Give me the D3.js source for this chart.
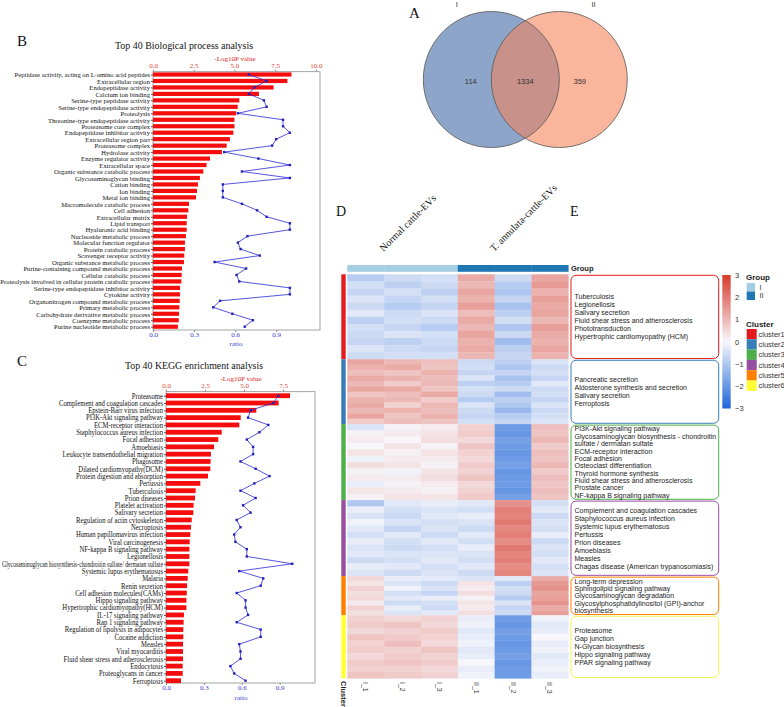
<!DOCTYPE html>
<html>
<head>
<meta charset="utf-8">
<script src="https://cdn.jsdelivr.net/npm/d3@7/dist/d3.min.js"></script>
<style>
  body { margin: 0; background: #fff; }
  svg { display: block; }
</style>
</head>
<body>
<div id="fig"></div>
<script>
// ---- panel B : GO terms ----
const bpTerms = [
  "Peptidase activity, acting on L-amino acid peptides", "Extracellular region", "Endopeptidase activity",
  "Calcium ion binding", "Serine-type peptidase activity", "Serine-type endopeptidase activity", "Proteolysis",
  "Threonine-type endopeptidase activity", "Proteasome core complex", "Endopeptidase inhibitor activity",
  "Extracellular region part", "Proteasome complex", "Hydrolase activity", "Enzyme regulator activity",
  "Extracellular space", "Organic substance catabolic process", "Glycosaminoglycan binding", "Cation binding",
  "Ion binding", "Metal ion binding", "Macromolecule catabolic process", "Cell adhesion", "Extracellular matrix",
  "Lipid transport", "Hyaluronic acid binding", "Nucleoside metabolic process", "Molecular function regulator",
  "Protein catabolic process", "Scavenger receptor activity", "Organic substance metabolic process",
  "Purine-containing compound metabolic process", "Cellular catabolic process",
  "Proteolysis involved in cellular protein catabolic process", "Serine-type endopeptidase inhibitor activity",
  "Cytokine activity", "Organonitrogen compound metabolic process", "Primary metabolic process",
  "Carbohydrate derivative metabolic process", "Coenzyme metabolic process", "Purine nucleotide metabolic process"
];
const bpLogP = [8.5, 8.25, 7.4, 6.5, 5.3, 5.2, 5.1, 5.0, 5.0, 4.93, 4.72, 4.52, 4.23, 3.5, 3.29, 3.09, 2.88, 2.76,
  2.7, 2.64, 2.21, 2.17, 2.09, 2.07, 2.07, 2.02, 1.96, 1.96, 1.92, 1.9, 1.78, 1.76, 1.74, 1.66, 1.66, 1.64, 1.62,
  1.6, 1.58, 1.53];
const bpRatio = [0.70, 0.83, 0.74, 0.70, 0.81, 0.83, 0.62, 0.95, 0.95, 1.0, 0.90, 0.87, 0.52, 0.77, 1.0, 0.65, 1.0,
  0.51, 0.51, 0.51, 0.65, 0.76, 0.83, 1.0, 1.0, 0.69, 0.62, 0.64, 0.78, 0.45, 0.68, 0.61, 0.63, 1.0, 1.0, 0.49,
  0.44, 0.58, 0.73, 0.67];

// ---- panel C : KEGG pathways ----
const keggTerms = [
  "Proteasome", "Complement and coagulation cascades", "Epstein-Barr virus infection", "PI3K-Akt signaling pathway",
  "ECM-receptor interaction", "Staphylococcus aureus infection", "Focal adhesion", "Amoebiasis",
  "Leukocyte transendothelial migration", "Phagosome", "Dilated cardiomyopathy(DCM)", "Protein digestion and absorption",
  "Pertussis", "Tuberculosis", "Prion diseases", "Platelet activation", "Salivary secretion",
  "Regulation of actin cytoskeleton", "Necroptosis", "Human papillomavirus infection", "Viral carcinogenesis",
  "NF-kappa B signaling pathway", "Legionellosis",
  "Glycosaminoglycan biosynthesis-chondroitin sulfate/ dermatan sulfate", "Systemic lupus erythematosus", "Malaria",
  "Renin secretion", "Cell adhesion molecules(CAMs)", "Hippo signaling pathway", "Hypertrophic cardiomyopathy(HCM)",
  "IL-17 signaling pathway", "Rap 1 signaling pathway", "Regulation of lipolysis in adipocytes", "Cocaine addiction",
  "Measles", "Viral myocarditis", "Fluid shear stress and atherosclerosis", "Endocytosis", "Proteoglycans in cancer",
  "Ferroptosis"
];
const keggLogP = [7.95, 7.22, 5.79, 4.79, 4.7, 3.57, 3.35, 3.08, 2.88, 2.86, 2.84, 2.69, 2.2, 1.9, 1.86, 1.77, 1.75,
  1.65, 1.6, 1.56, 1.52, 1.5, 1.5, 1.5, 1.43, 1.39, 1.35, 1.33, 1.31, 1.31, 1.15, 1.13, 1.11, 1.11, 1.09, 1.09, 1.09,
  1.07, 1.07, 0.96];
const keggRatio = [0.89, 0.85, 0.67, 0.65, 0.81, 0.74, 0.64, 0.69, 0.69, 0.59, 0.71, 0.82, 0.70, 0.59, 0.71, 0.61,
  0.67, 0.56, 0.59, 0.54, 0.55, 0.64, 0.64, 1.0, 0.58, 0.77, 0.75, 0.56, 0.63, 0.63, 0.65, 0.56, 0.75, 0.75, 0.58,
  0.59, 0.59, 0.51, 0.54, 0.63];

// ---- panel A : Venn ----
const vennSets = ["I", "II"];
const vennCounts = [114, 1334, 359]; // I only, shared, II only

// ---- panel D : heatmap ----
const samples = ["I_1", "I_2", "I_3", "II_1", "II_2", "II_3"];
const sampleGroup = ["I", "I", "I", "II", "II", "II"];
const groupTitles = ["Normal cattle-EVs", "T. annulata-cattle-EVs"];
const clusterNames = ["cluster1", "cluster2", "cluster3", "cluster4", "cluster5", "cluster6"];
const clusterSizes = [380, 290, 340, 340, 175, 282];
const cluster1Rows = [
  [-0.9, -0.6, -0.5, 1.2, -0.6, 1.3], [-0.5, -0.8, -0.6, 1.0, -0.9, 1.5], [-0.7, -0.5, -0.8, 1.3, -1.0, 1.1],
  [-0.4, -0.7, -0.5, 1.1, -0.7, 1.4], [-0.6, -0.9, -0.7, 1.4, -1.1, 1.2], [-0.3, -0.6, -0.4, 0.9, -0.8, 1.3],
  [-0.8, -0.5, -0.6, 1.2, -0.5, 1.0], [-0.5, -0.7, -0.9, 1.0, -1.0, 1.4], [-0.6, -0.4, -0.5, 1.3, -0.6, 1.2],
  [-0.7, -0.8, -0.6, 1.1, -1.2, 1.1], [-0.4, -0.6, -0.7, 1.2, -0.8, 1.3], [-0.6, -0.5, -0.5, 1.0, -0.7, 1.1]
];
const cluster2Rows = [
  [1.3, 1.0, 0.9, -0.6, -0.8, -0.4], [1.1, 1.2, 0.8, -0.5, -1.0, -0.6], [0.9, 0.8, 1.1, -0.7, -0.7, -0.5],
  [1.2, 1.1, 0.9, -0.4, -1.1, -0.7], [1.0, 0.7, 1.0, -0.8, -0.9, -0.3], [1.3, 1.2, 0.8, -0.5, -0.6, -0.6],
  [0.8, 0.9, 1.2, -0.6, -1.2, -0.5], [1.1, 1.0, 0.7, -0.9, -0.8, -0.7], [1.2, 0.6, 1.0, -0.4, -1.0, -0.4],
  [1.0, 1.1, 0.9, -0.6, -1.3, -0.6], [1.3, 0.8, 1.1, -0.7, -0.9, -0.5], [0.7, 0.9, 0.8, -0.5, -0.7, -0.4]
];
const cluster3Rows = [
  [-0.4, 0.1, 0.2, 0.6, -1.9, 0.9], [0.1, 0.2, 0.3, 0.7, -2.0, 0.8], [0.2, 0.0, 0.4, 0.5, -1.8, 1.0],
  [0.0, 0.3, 0.1, 0.8, -1.9, 0.7], [0.3, 0.1, 0.3, 0.6, -2.0, 0.9], [-0.1, 0.2, 0.2, 0.5, -1.9, 0.8],
  [0.4, 0.3, 0.1, 0.7, -1.8, 1.0], [0.1, -0.1, 0.3, 0.6, -2.0, 0.7], [0.2, 0.2, 0.4, 0.8, -1.9, 0.9],
  [-0.2, 0.1, 0.2, 0.5, -1.9, 0.8], [0.3, 0.2, 0.1, 0.6, -2.0, 0.9], [0.1, 0.3, 0.3, 0.7, -1.8, 0.8]
];
const cluster4Rows = [
  [-1.0, -0.3, -0.2, -0.3, 1.6, -0.5], [-0.2, -0.5, -0.4, -0.5, 1.9, -0.3], [-0.4, -0.6, -0.3, -0.2, 1.8, -0.6],
  [-0.1, -0.4, -0.5, -0.4, 2.0, -0.4], [-0.3, -0.7, -0.4, -0.6, 1.8, -0.5], [-0.5, -0.3, -0.6, -0.3, 1.9, -0.2],
  [-0.2, -0.5, -0.3, -0.5, 1.7, -0.6], [-0.4, -0.6, -0.5, -0.2, 2.0, -0.4], [-0.3, -0.4, -0.4, -0.4, 1.8, -0.5],
  [-0.6, -0.5, -0.3, -0.5, 1.9, -0.3], [-0.2, -0.3, -0.5, -0.3, 1.7, -0.5], [-0.4, -0.6, -0.4, -0.6, 1.8, -0.4]
];
const cluster5Rows = [
  [0.5, -0.2, -0.3, -0.4, -0.3, 1.2], [0.3, -0.4, -0.6, 0.3, -0.8, 1.5], [0.6, -0.1, -0.4, 0.2, -0.5, 1.6],
  [0.4, -0.5, -0.7, 0.4, -0.6, 1.3], [0.5, -0.3, -0.2, 0.1, -0.9, 1.4], [0.2, -0.6, -0.5, 0.3, -0.4, 1.6],
  [0.6, -0.2, -0.6, 0.2, -0.7, 1.2], [0.4, -0.4, -0.3, 0.4, -0.6, 1.4]
];
const cluster6Rows = [
  [0.6, 0.5, 0.6, -0.2, -1.9, -0.1], [0.7, 0.8, 0.5, -0.1, -2.0, -0.3], [0.5, 0.6, 0.7, -0.3, -1.8, -0.2],
  [0.8, 0.7, 0.6, -0.2, -1.9, 0.0], [0.6, 0.9, 0.5, -0.1, -2.0, -0.2], [0.7, 0.6, 0.8, -0.3, -1.9, -0.1],
  [0.5, 0.7, 0.6, -0.2, -1.8, -0.3], [0.7, 0.8, 0.7, 0.0, -2.0, -0.2], [0.6, 0.6, 0.5, -0.2, -1.9, -0.1],
  [0.8, 0.7, 0.6, -0.1, -1.9, -0.2]
];
const colorTicks = [3, 2, 1, 0, -1, -2, -3];

// ---- panel E : pathway boxes, one per cluster ----
const cluster1Paths = ["Tuberculosis", "Legionellosis", "Salivary secretion", "Fluid shear stress and atherosclerosis",
  "Phototransduction", "Hypertrophic cardiomyopathy (HCM)"];
const cluster2Paths = ["Pancreatic secretion", "Aldosterone synthesis and secretion", "Salivary secretion", "Ferroptosis"];
const cluster3Paths = ["PI3K-Akt signaling pathway", "Glycosaminoglycan biosynthesis - chondroitin",
  "sulfate / dermatan sulfate", "ECM-receptor interaction", "Focal adhesion", "Osteoclast differentiation",
  "Thyroid hormone synthesis", "Fluid shear stress and atherosclerosis", "Prostate cancer", "NF-kappa B signaling pathway"];
const cluster4Paths = ["Complement and coagulation cascades", "Staphylococcus aureus infection",
  "Systemic lupus erythematosus", "Pertussis", "Prion diseases", "Amoebiasis", "Measles",
  "Chagas disease (American trypanosomiasis)"];
const cluster5Paths = ["Long-term depression", "Sphingolipid signaling pathway", "Glycosaminoglycan degradation",
  "Glycosylphosphatidylinositol (GPI)-anchor", "biosynthesis"];
const cluster6Paths = ["Proteasome", "Gap junction", "N-Glycan biosynthesis", "Hippo signaling pathway",
  "PPAR signaling pathway"];

const SERIF = "'Liberation Serif', 'Times New Roman', serif";
const SANS = "'Liberation Sans', Arial, sans-serif";

const svg = d3.select("#fig").append("svg")
  .attr("width", 784).attr("height", 707)
  .style("background", "#fff");

function letter(t, x, y, size) {
  svg.append("text").attr("x", x).attr("y", y).text(t)
    .attr("font-family", SERIF).attr("font-size", size).attr("fill", "#111");
}

// squeeze a text element horizontally so it is at most maxW wide
function squeeze(sel, sx, maxW) {
  sel.each(function () {
    const el = d3.select(this);
    const w = this.getComputedTextLength();
    let s = sx;
    if (w * s > maxW) s = maxW / w;
    const x = +el.attr("x") || 0;
    el.attr("x", 0).attr("transform", `translate(${x},0) scale(${s},1)`);
  });
}

function enrichPanel(o) {
  const g = svg.append("g");
  const n = o.terms.length;
  const x = d3.scaleLinear().domain([0, o.pMax]).range([o.left, o.right]);
  const xr = d3.scaleLinear().domain([0, o.rMax]).range([o.left, o.right]);
  const y = d3.scaleLinear().domain([0, n - 1]).range([o.first, o.last]);

  g.append("text").attr("x", o.titleX).attr("y", o.titleY).attr("text-anchor", "middle")
    .attr("font-family", SERIF).attr("font-size", 11).attr("fill", "#111")
    .attr("textLength", o.titleW).attr("lengthAdjust", "spacingAndGlyphs").text(o.title);
  g.append("text").attr("x", o.pLabelX).attr("y", o.top - 11).attr("text-anchor", "middle")
    .attr("font-family", SERIF).attr("font-size", 7).attr("fill", "#e02424").text("-Log10P value");

  g.append("rect").attr("x", o.left).attr("y", o.top)
    .attr("width", o.boxRight - o.left).attr("height", o.bottom - o.top)
    .attr("fill", "none").attr("stroke", "#8c8c8c").attr("stroke-width", 0.8);

  g.selectAll("rect.bar").data(o.logP).join("rect").attr("class", "bar")
    .attr("x", o.left).attr("y", (d, i) => y(i) - o.barH / 2)
    .attr("width", d => x(d) - o.left).attr("height", o.barH)
    .attr("fill", "#f50d0d");

  const line = d3.line().x(d => xr(d)).y((d, i) => y(i));
  g.append("path").datum(o.ratio).attr("d", line)
    .attr("fill", "none").attr("stroke", "#2a2ad4").attr("stroke-width", 0.8);
  g.selectAll("rect.pt").data(o.ratio).join("rect").attr("class", "pt")
    .attr("x", d => xr(d) - 1.2).attr("y", (d, i) => y(i) - 1.2)
    .attr("width", 2.4).attr("height", 2.4).attr("fill", "#2222b8");

  const top = g.append("g").attr("transform", `translate(0,${o.top})`)
    .call(d3.axisTop(x).tickValues(o.pTicks).tickFormat(d3.format(".1f")).tickSize(2).tickPadding(2));
  top.select(".domain").remove();
  top.selectAll("line").attr("stroke", "#8c8c8c");
  top.selectAll("text").attr("font-family", SERIF).attr("font-size", 7).attr("fill", "#e0452f");

  const bot = g.append("g").attr("transform", `translate(0,${o.bottom})`)
    .call(d3.axisBottom(xr).tickValues([0, 0.3, 0.6, 0.9]).tickFormat(d3.format(".1f")).tickSize(2).tickPadding(0.5));
  bot.select(".domain").remove();
  bot.selectAll("line").attr("stroke", "#8c8c8c");
  bot.selectAll("text").attr("font-family", SERIF).attr("font-size", 7).attr("fill", "#3b3bd0");
  g.append("text").attr("x", o.ratioX).attr("y", o.bottom + o.ratioDy).attr("text-anchor", "middle")
    .attr("font-family", SERIF).attr("font-size", 7).attr("fill", "#3b3bd0").text("ratio");

  const left = g.append("g").attr("transform", `translate(${o.left},0)`)
    .call(d3.axisLeft(y).tickValues(d3.range(n)).tickFormat(i => o.terms[i]).tickSize(2).tickPadding(1));
  left.select(".domain").remove();
  left.selectAll("line").attr("stroke", "#555");
  left.selectAll("text").attr("font-family", SERIF).attr("font-size", o.labelSize).attr("fill", "#111");
  squeeze(left.selectAll("text"), o.labelSx, o.labelMaxW);
}

// ---------------- B ----------------
letter("B", 17, 46, 15);
enrichPanel({
  terms: bpTerms, logP: bpLogP, ratio: bpRatio,
  title: "Top 40 Biological process analysis", titleX: 184, titleY: 48.5, titleW: 138,
  pLabelX: 235, ratioX: 236, ratioDy: 15.5,
  left: 153, right: 320, boxRight: 320, top: 71.7, bottom: 330, first: 74.5, last: 326.7, barH: 4.2,
  pMax: 10.25, rMax: 1.22, pTicks: [0, 2.5, 5, 7.5, 10],
  labelSize: 7, labelSx: 0.95, labelMaxW: 150
});

// ---------------- C ----------------
letter("C", 17, 366, 15);
enrichPanel({
  terms: keggTerms, logP: keggLogP, ratio: keggRatio,
  title: "Top 40 KEGG enrichment analysis", titleX: 194, titleY: 368.5, titleW: 138,
  pLabelX: 241, ratioX: 241, ratioDy: 16.5,
  left: 166, right: 315, boxRight: 315, top: 391.7, bottom: 683, first: 395.7, last: 680.7, barH: 4.8,
  pMax: 9.55, rMax: 1.18, pTicks: [0, 2.5, 5, 7.5],
  labelSize: 7.3, labelSx: 0.92, labelMaxW: 161
});

// ---------------- A : Venn ----------------
letter("A", 409, 17.5, 15);
{
  const g = svg.append("g");
  const r = 68;
  const cx = d3.scalePoint().domain(vennSets).range([491.3, 559.3]);
  const cy = 79.5;
  g.append("defs").append("clipPath").attr("id", "clipL")
    .append("circle").attr("cx", cx("I")).attr("cy", cy).attr("r", r);
  g.append("circle").attr("cx", cx("I")).attr("cy", cy).attr("r", r).attr("fill", "#8ea5ca");
  g.append("circle").attr("cx", cx("II")).attr("cy", cy).attr("r", r).attr("fill", "#f9b69d");
  g.append("circle").attr("cx", cx("II")).attr("cy", cy).attr("r", r).attr("fill", "#c8918a")
    .attr("clip-path", "url(#clipL)");
  vennSets.forEach(s => {
    g.append("circle").attr("cx", cx(s)).attr("cy", cy).attr("r", r)
      .attr("fill", "none").attr("stroke", "#555").attr("stroke-width", 0.8);
  });
  g.selectAll("text.set").data(vennSets).join("text").attr("class", "set")
    .attr("x", (d, i) => i === 0 ? 456.7 : 593.5).attr("y", 6.5).attr("text-anchor", "middle")
    .attr("font-family", SANS).attr("font-size", 7.5).attr("fill", "#333").text(d => d);
  const numX = [cx("I") - 20.5, (cx("I") + cx("II")) / 2, cx("II") + 20.5];
  g.selectAll("text.num").data(vennCounts).join("text").attr("class", "num")
    .attr("x", (d, i) => numX[i]).attr("y", 83.5).attr("text-anchor", "middle")
    .attr("font-family", SANS).attr("font-size", 7.5).attr("fill", "#333").text(d => d);
}

// ---------------- D : heatmap ----------------
letter("D", 336, 216, 14);
letter("E", 570, 216, 14);
const clusterColors = ["#e41a1c", "#377eb8", "#4daf4a", "#984ea3", "#ff7f00", "#ffff33"];
const groupColors = { I: "#a6cee3", II: "#1f78b4" };
const heatColor = d3.scaleLinear().domain([-3, 0, 3]).range(["#1f66d9", "#f7f7fb", "#d73a2a"]).clamp(true);
const clusterRows = [cluster1Rows, cluster2Rows, cluster3Rows, cluster4Rows, cluster5Rows, cluster6Rows];
const clusterPaths = [cluster1Paths, cluster2Paths, cluster3Paths, cluster4Paths, cluster5Paths, cluster6Paths];
{
  const g = svg.append("g");
  const hx = d3.scaleBand().domain(samples).range([347.3, 568.3]);
  const total = d3.sum(clusterSizes);
  const hy = d3.scaleLinear().domain([0, total]).range([274.3, 678.3]);
  const starts = d3.cumsum([0].concat(clusterSizes));

  // column titles
  const groups = ["I", "II"];
  groups.forEach((gr, k) => {
    const cols = samples.filter((s, i) => sampleGroup[i] === gr);
    const mid = (hx(cols[0]) + hx(cols[cols.length - 1]) + hx.bandwidth()) / 2;
    g.append("text").attr("transform", `translate(${mid - 19},252) rotate(-45)`)
      .attr("font-family", SERIF).attr("font-size", 10).attr("fill", "#111")
      .text(groupTitles[k]);
  });

  // group bar
  g.selectAll("rect.grp").data(samples).join("rect").attr("class", "grp")
    .attr("x", d => hx(d)).attr("y", 265).attr("width", hx.bandwidth() + 0.3).attr("height", 6.8)
    .attr("fill", (d, i) => groupColors[sampleGroup[i]]);
  g.append("text").attr("x", 571).attr("y", 271).attr("font-family", SANS).attr("font-size", 7.5)
    .attr("font-weight", "bold").attr("fill", "#222").text("Group");

  // cells
  clusterRows.forEach((rows, c) => {
    const y0 = hy(starts[c]), y1 = hy(starts[c + 1]);
    const rh = (y1 - y0) / rows.length;
    rows.forEach((row, r) => {
      g.selectAll(null).data(row).join("rect")
        .attr("x", (d, i) => hx(samples[i])).attr("y", y0 + r * rh)
        .attr("width", hx.bandwidth() + 0.3).attr("height", rh + 0.3)
        .attr("fill", d => heatColor(d));
    });
    // cluster strip
    g.append("rect").attr("x", 341.3).attr("y", y0).attr("width", 4.4).attr("height", y1 - y0)
      .attr("fill", clusterColors[c]);

    // pathway box (panel E)
    const by0 = y0 + 1, by1 = y1 - 0.8;
    g.append("rect").attr("x", 571).attr("y", by0).attr("width", 147.7).attr("height", by1 - by0)
      .attr("rx", 5).attr("ry", 5).attr("fill", "#fff")
      .attr("stroke", clusterColors[c] === "#ffff33" ? "#f5f05a" : clusterColors[c]).attr("stroke-width", 1);
    const lines = clusterPaths[c];
    const step = Math.min(8, (by1 - by0 - 0.5) / lines.length);
    const blockTop = (by0 + by1) / 2 - step * lines.length / 2;
    g.selectAll(null).data(lines).join("text")
      .attr("x", 574.5).attr("y", (d, i) => blockTop + step * (i + 0.5))
      .attr("dy", "0.35em").attr("font-family", SANS).attr("font-size", 7)
      .attr("fill", "#222").text(d => d);
  });

  // sample labels
  g.selectAll("text.smp").data(samples).join("text").attr("class", "smp")
    .attr("transform", d => `translate(${hx(d) + hx.bandwidth() / 2 - 2.5},682) rotate(90)`)
    .attr("font-family", SANS).attr("font-size", 7).attr("fill", "#444").text(d => d);
  g.append("text").attr("transform", "translate(341,681) rotate(90)")
    .attr("font-family", SANS).attr("font-size", 7.5).attr("font-weight", "bold").attr("fill", "#222")
    .text("Cluster");
}

// ---------------- legends ----------------
{
  const g = svg.append("g");
  const grad = g.append("defs").append("linearGradient").attr("id", "hgrad")
    .attr("x1", 0).attr("y1", 1).attr("x2", 0).attr("y2", 0);
  d3.range(-3, 3.01, 0.5).forEach(v => {
    grad.append("stop").attr("offset", (v + 3) / 6).attr("stop-color", heatColor(v));
  });
  const cs = d3.scaleLinear().domain([-3, 3]).range([408.5, 275]);
  g.append("rect").attr("x", 722.3).attr("y", 275).attr("width", 8.4).attr("height", 133.5)
    .attr("fill", "url(#hgrad)");
  const ax = g.append("g").attr("transform", "translate(731,0)")
    .call(d3.axisRight(cs).tickValues(colorTicks).tickSize(0).tickPadding(4).tickFormat(d3.format("d")));
  ax.select(".domain").remove();
  ax.selectAll("text").attr("font-family", SANS).attr("font-size", 7.5).attr("fill", "#333")
    .text(d => d < 0 ? "\u2212" + Math.abs(d) : d);

  g.append("text").attr("x", 746).attr("y", 280).attr("font-family", SANS).attr("font-size", 8)
    .attr("font-weight", "bold").attr("fill", "#222").text("Group");
  ["I", "II"].forEach((gr, i) => {
    g.append("rect").attr("x", 746.7).attr("y", 283 + i * 8.5).attr("width", 8.3).attr("height", 8.5)
      .attr("fill", groupColors[gr]);
    g.append("text").attr("x", 759.5).attr("y", 287.3 + i * 8.5).attr("dy", "0.35em")
      .attr("font-family", SANS).attr("font-size", 7.5).attr("fill", "#333").text(gr);
  });

  g.append("text").attr("x", 746).attr("y", 327).attr("font-family", SANS).attr("font-size", 8)
    .attr("font-weight", "bold").attr("fill", "#222").text("Cluster");
  clusterNames.forEach((cn, i) => {
    g.append("rect").attr("x", 746.7).attr("y", 329 + i * 10.3).attr("width", 10).attr("height", 10.3)
      .attr("fill", clusterColors[i]);
    g.append("text").attr("x", 758.5).attr("y", 334.2 + i * 10.3).attr("dy", "0.35em")
      .attr("font-family", SANS).attr("font-size", 7.5).attr("fill", "#333").text(cn);
  });
}
</script>
</body>
</html>
